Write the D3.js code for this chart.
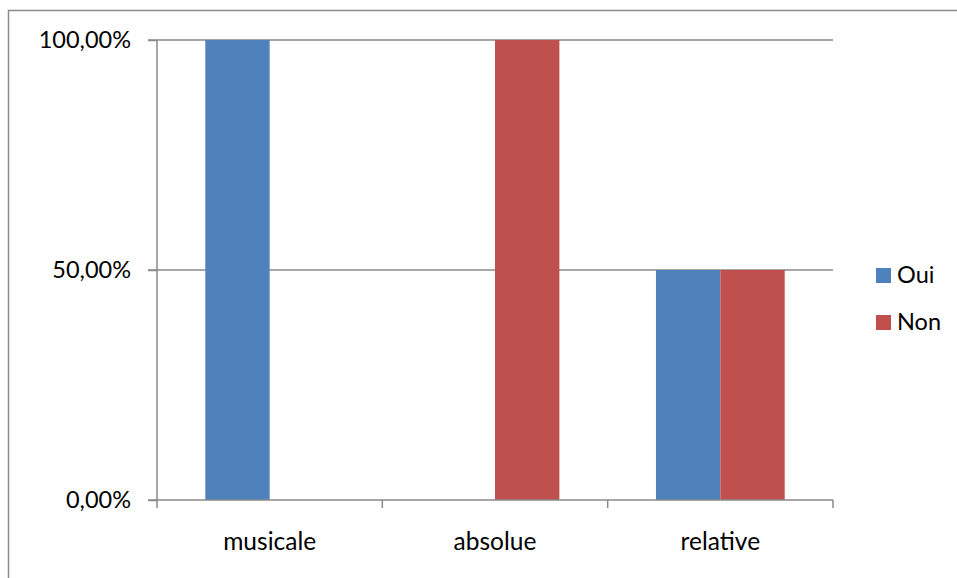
<!DOCTYPE html>
<html><head><meta charset="utf-8">
<script src="https://cdn.jsdelivr.net/npm/d3@7"></script>
<style>html,body{margin:0;padding:0;background:#fff;} svg{display:block;}</style>
</head><body>
<svg id="c" width="957" height="578"></svg>
<script>
const categories = ["musicale", "absolue", "relative"];
const seriesNames = ["Oui", "Non"];
const ouiValues = [1.0, 0.0, 0.5];
const nonValues = [0.0, 1.0, 0.5];
const yTicks = [0, 0.5, 1.0];
const colors = ["#4F81BD", "#C0504D"];

const svg = d3.select("#c");
const font = "Lato, 'Open Sans', sans-serif";
const fs = 23.5;
const fsx = 24.5;

svg.append("rect").attr("x", 8.5).attr("y", 10.5).attr("width", 1200).attr("height", 1200)
  .attr("fill", "none").attr("stroke", "#8c8c8c").attr("stroke-width", 1.5);

const x0 = 157, x1 = 833, yTop = 40, yBot = 500;
const x = d3.scaleBand().domain(categories).range([x0, x1]).paddingInner(0).paddingOuter(0);
const y = d3.scaleLinear().domain([0, 1]).range([yBot, yTop]);
const xs = d3.scaleBand().domain(seriesNames).range([0, x.bandwidth()]).paddingOuter(0.75).paddingInner(0);

// gridlines
svg.append("g").selectAll("line").data(yTicks.filter(d => d > 0)).join("line")
  .attr("x1", x0 - 9).attr("x2", x1).attr("y1", d => y(d)).attr("y2", d => y(d))
  .attr("stroke", "#8a8a8a").attr("stroke-width", 1.5);

// bars
const data = [];
categories.forEach((c, i) => {
  data.push({c, s: "Oui", v: ouiValues[i], col: colors[0]});
  data.push({c, s: "Non", v: nonValues[i], col: colors[1]});
});
svg.append("g").selectAll("rect").data(data.filter(d => d.v > 0)).join("rect")
  .attr("x", d => x(d.c) + xs(d.s)).attr("width", xs.bandwidth())
  .attr("y", d => y(d.v)).attr("height", d => y(0) - y(d.v))
  .attr("fill", d => d.col);

// y axis
const yAxis = d3.axisLeft(y).tickValues(yTicks).tickSize(9).tickPadding(17)
  .tickFormat(d => d3.format(".2f")(d * 100).replace(".", ",") + "%");
const gy = svg.append("g").attr("transform", `translate(${x0},0)`).call(yAxis);
gy.select(".domain").attr("stroke", "#8a8a8a").attr("stroke-width", 1.5).attr("d", `M-9,${yBot}H0V${yTop}`);
gy.selectAll(".tick line").attr("stroke", "#8a8a8a").attr("stroke-width", 1.5);
gy.selectAll(".tick text").attr("font-family", font).attr("font-size", fs).attr("fill", "#000");

// x axis
const xAxis = d3.axisBottom(x).tickSize(0).tickPadding(33);
const gx = svg.append("g").attr("transform", `translate(0,${yBot})`).call(xAxis);
gx.select(".domain").attr("stroke", "#8a8a8a").attr("stroke-width", 1.5).attr("d", `M${x0},0H${x1}`);
gx.selectAll(".tick text").attr("font-family", font).attr("font-size", fsx).attr("fill", "#000");
const boundaries = categories.map(c => x(c)).concat([x1]);
gx.append("g").selectAll("line").data(boundaries).join("line")
  .attr("x1", d => d).attr("x2", d => d).attr("y1", 0).attr("y2", 8)
  .attr("stroke", "#8a8a8a").attr("stroke-width", 1.5);

// legend
const leg = svg.append("g").selectAll("g").data(seriesNames).join("g")
  .attr("transform", (d, i) => `translate(876,${268 + i * 47})`);
leg.append("rect").attr("width", 15).attr("height", 15).attr("fill", (d, i) => colors[i]);
leg.append("text").attr("x", 21).attr("y", 14.5).text(d => d)
  .attr("font-family", font).attr("font-size", fs).attr("fill", "#000");
</script>
</body></html>
